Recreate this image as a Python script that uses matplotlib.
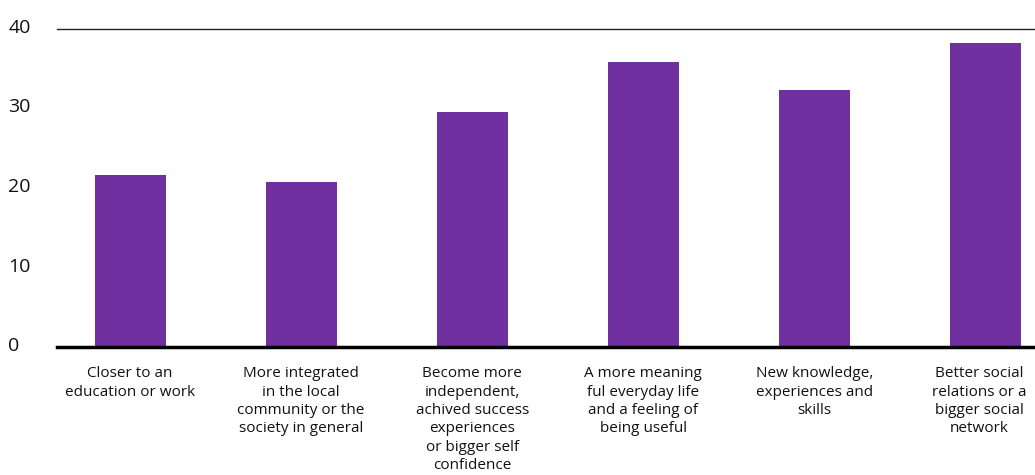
import matplotlib
matplotlib.use("Agg")
import matplotlib.pyplot as plt
import matplotlib.transforms as mtransforms
import numpy as np

categories = [
    "Closer to an\neducation or work",
    "More integrated\nin the local\ncommunity or the\nsociety in general",
    "Become more\nindependent,\nachived success\nexperiences\nor bigger self\nconfidence",
    "A more meaning\nful everyday life\nand a feeling of\nbeing useful",
    "New knowledge,\nexperiences and\nskills",
    "Better social\nrelations or a\nbigger social\nnetwork",
]
values = [21.6, 20.7, 29.6, 35.9, 32.3, 38.3]
yticks = [0, 10, 20, 30, 40]

plt.rcParams['font.family'] = ['Open Sans', 'DejaVu Sans']

fig = plt.figure(figsize=(10.35, 4.75), dpi=100)
ax = fig.add_axes([57/1035, 128/475, 1 - 57/1035, (347-29)/475])

x = np.arange(len(categories))
ax.bar(x, values, width=0.415, color="#7030A0", zorder=2)

ax.set_xlim(-0.427, 5.29)
ax.set_ylim(0, 40)

for s in ["left", "right", "top"]:
    ax.spines[s].set_visible(False)
ax.spines["bottom"].set_linewidth(2.5)
ax.spines["bottom"].set_color("black")
ax.spines["bottom"].set_zorder(3)
ax.axhline(40, color="#222222", linewidth=1.0, clip_on=False)

ax.set_yticks(yticks)
ax.set_yticklabels([str(t) for t in yticks], fontsize=14, color="#111111")
ax.tick_params(axis="y", length=0, pad=35)
shift = mtransforms.ScaledTranslation(0, 3/100, fig.dpi_scale_trans)
for lab in ax.get_yticklabels():
    lab.set_horizontalalignment("left")
    lab.set_transform(lab.get_transform() + shift)

ax.set_xticks(x)
ax.set_xticklabels(categories, fontsize=11, color="#111111", linespacing=1.3, va="top")
ax.tick_params(axis="x", length=0, pad=14)
lab_last = ax.get_xticklabels()[-1]
lab_last.set_transform(lab_last.get_transform() + mtransforms.ScaledTranslation(-6/100, 0, fig.dpi_scale_trans))

fig.savefig("out.png", dpi=100)
